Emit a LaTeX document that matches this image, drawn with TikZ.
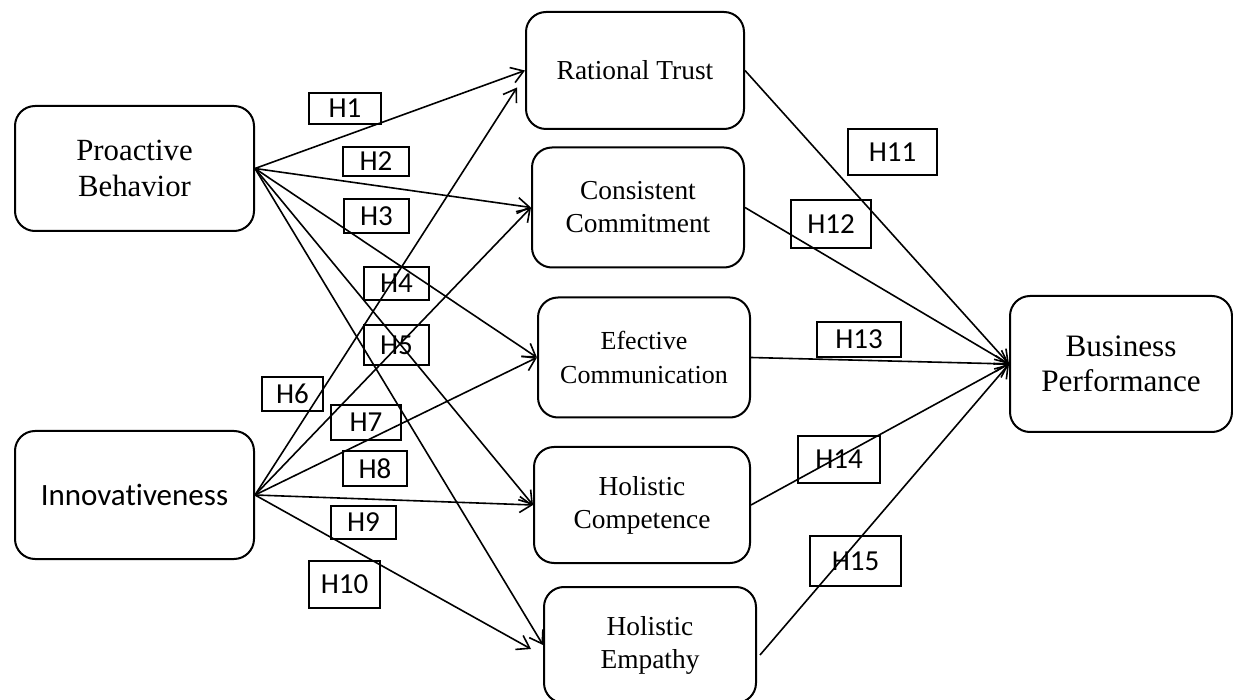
\documentclass[tikz,border=0pt]{standalone}
\usepackage{fontspec}
\setmainfont{Liberation Serif}
\newfontfamily\hypfont[Ligatures=NoCommon]{Carlito}
\usetikzlibrary{calc, positioning}
\usetikzlibrary{arrows.meta}

\begin{document}
\begin{tikzpicture}[x=0.5pt, y=-0.5pt,
  box/.style={draw, line width=1pt, rounded corners=10pt, align=center, inner sep=0pt},
  mid/.style={box, minimum width=106pt, minimum height=60pt, font=\fontsize{13.7}{16.5}\selectfont},
  side/.style={box, minimum width=119.5pt, font=\fontsize{15.4}{18}\selectfont},
  hyp/.style={draw, line width=0.7pt, inner sep=0pt, font=\hypfont\fontsize{14.5}{16}\selectfont},
  link/.style={line width=0.8pt, -{Straight Barb[length=6pt,width=8pt]}}]

\useasboundingbox (0,0) rectangle (1233,700);

% left constructs
\node[side, minimum height=62.5pt] (proactive) at (134.5,168.5) {Proactive\\Behavior};
\node[side, minimum height=64pt, font=\hypfont\fontsize{15.5}{18}\selectfont] (innov) at (134.5,495) {Innovativeness};

% mediators
\node[mid, minimum width=109pt, minimum height=58.5pt] (trust) at (635,70.5) {Rational Trust};
\node[mid] (commit) at (638,207.5) {Consistent\\Commitment};
\node[mid, font=\fontsize{13}{17}\selectfont] (comm) at (644,357.5) {Efective\\Communication};
\node[mid, minimum width=108pt, minimum height=58pt] (compet) at (642,505) {Holistic\\Competence};
\node[mid, minimum height=58pt] (empathy) at (650,645) {Holistic\\Empathy};

% outcome
\node[side, minimum width=111pt, minimum height=68pt, font=\fontsize{15.6}{17.5}\selectfont] (perf) at (1121,364) {Business\\Performance};

\coordinate (trustlow) at ($(trust.west)+(-8,17)$);
\coordinate (emplow) at ($(empathy.west)+(-12,4)$);
\coordinate (empout) at ($(empathy.east)+(3,10)$);

% paths
\foreach \t in {trust,commit,comm,compet,empathy}
  \draw[link] (proactive.east) -- (\t.west);
\draw[link] (innov.east) -- (trustlow);
\foreach \t in {commit,comm,compet}
  \draw[link] (innov.east) -- (\t.west);
\draw[link] (innov.east) -- (emplow);

\foreach \s in {trust,commit,comm,compet}
  \draw[link] (\s.east) -- (perf.west);
\draw[link] (empout) -- (perf.west);

% hypothesis labels
\foreach \n/\px/\py/\w/\h in {1/345/108.5/72/31, 2/376/161.5/66/29, 3/376.5/216/65/34,
    4/396.5/283.5/65/33, 5/396.5/345/65/40, 6/292.5/394/61/34, 7/366/422.5/70/35,
    8/375/468.5/64/35, 9/363.5/522.5/65/33, 10/344.5/584.5/71/47,
    11/892.5/152/89/46, 12/831/224/80/48, 13/859/339.5/84/35,
    14/839/459.5/82/47, 15/855.5/561/91/50}
  \node[hyp, minimum width=\w*0.5pt, minimum height=\h*0.5pt] (h\n) at (\px,\py) {H\n};

\end{tikzpicture}
\end{document}
